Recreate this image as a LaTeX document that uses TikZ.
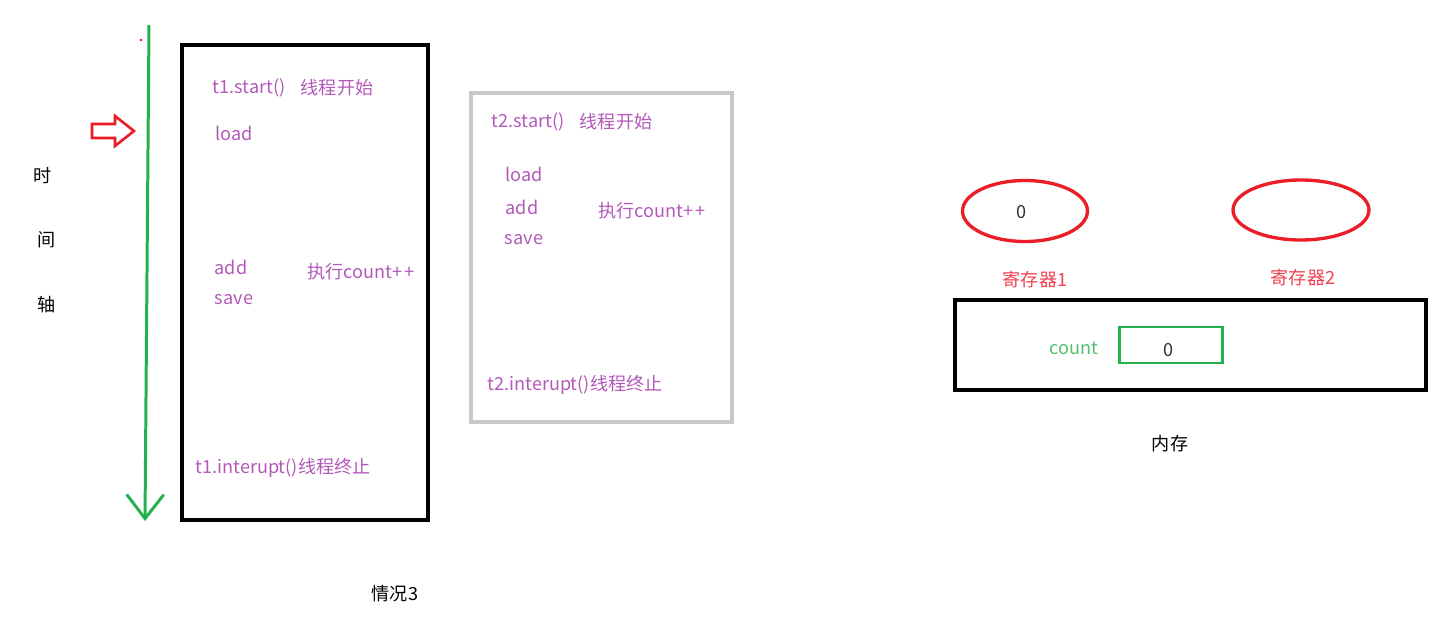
\documentclass[tikz,border=0pt]{standalone}
\usepackage{fontspec}
\setmainfont{Noto Sans CJK SC}
\usetikzlibrary{arrows.meta,shapes.geometric}
\definecolor{stepviolet}{RGB}{178,88,186}
\definecolor{regred}{RGB}{235,30,40}
\definecolor{labelred}{RGB}{240,64,80}
\definecolor{timegreen}{RGB}{34,177,76}
\definecolor{countgreen}{RGB}{80,192,112}
\definecolor{boxgray}{RGB}{200,200,200}
\definecolor{valgray}{RGB}{50,50,50}
\newcommand{\plusplus}{+\kern1.5pt+}
\tikzset{
    txt/.style={font=\fontsize{10.3}{12}\selectfont, inner sep=0pt},
    op/.style={txt, text=stepviolet},
    reg/.style={ellipse, draw=regred, line width=1.9pt, minimum width=2.5cm, minimum height=1.22cm, inner sep=0pt},
}
\begin{document}
\begin{tikzpicture}[x=0.02cm, y=-0.02cm]
    \useasboundingbox (0,0) rectangle (1441,629);

    % Time axis (left)
    \coordinate (ttop) at (149,25);
    \coordinate (tbot) at (145,521);
    \draw[timegreen, line width=1.7pt, -{Straight Barb[length=4.8mm, width=7.4mm, line width=1.7pt]}] (ttop) -- (tbot);
    \fill[regred] (141,40) circle (1.3);
    \draw[regred, line width=1.5pt, line join=miter] (92,124) -- (115,124) -- (115,116) -- (134,131) -- (115,146) -- (115,138) -- (92,138) -- cycle;
    \node[txt] (shi) at (43,176) {时};
    \node[txt] (jian) at (47,240) {间};
    \node[txt] (zhou) at (47,305) {轴};

    % Thread 1
    \draw[line width=2.2pt] (182,45) rectangle (428,520);
    \node[op] (t1start) at (249,88) {t1.start()};
    \node[op] (t1begin) at (337,88) {线程开始};
    \node[op] (t1load) at (234,133) {load};
    \node[op] (t1add) at (231,267) {add};
    \node[op] (t1save) at (234,300) {save};
    \node[op] (t1inc) at (361,272) {执行count\plusplus};
    \node[op] (t1end) at (283,468) {t1.interupt()线程终止};
    \node[txt] (case) at (395,594) {情况3};

    % Thread 2
    \draw[boxgray, line width=2.2pt] (471,93) rectangle (732,422);
    \node[op] (t2start) at (528,122) {t2.start()};
    \node[op] (t2begin) at (616,122) {线程开始};
    \node[op] (t2load) at (524,174) {load};
    \node[op] (t2add) at (522,207) {add};
    \node[op] (t2save) at (524,240) {save};
    \node[op] (t2inc) at (652,211) {执行count\plusplus};
    \node[op] (t2end) at (575,385) {t2.interupt()线程终止};

    % Registers and memory (right)
    \node[reg] (reg1) at (1025,211) {};
    \node[reg, minimum width=2.72cm, minimum height=1.2cm] (reg2) at (1301,210) {};
    \node[txt, text=valgray] (reg1val) at (1022,212) {0};
    \node[txt, text=labelred] (reg1lbl) at (1035,280) {寄存器1};
    \node[txt, text=labelred] (reg2lbl) at (1303,278) {寄存器2};
    \draw[line width=2.2pt] (955,300) rectangle (1426,390);
    \node[txt, text=countgreen] (countlbl) at (1074,348) {count};
    \draw[timegreen, line width=1.7pt] (1119,327) rectangle (1222,363);
    \node[txt, text=valgray] (countval) at (1169,350) {0};
    \node[txt] (mem) at (1170,444) {内存};
\end{tikzpicture}
\end{document}
